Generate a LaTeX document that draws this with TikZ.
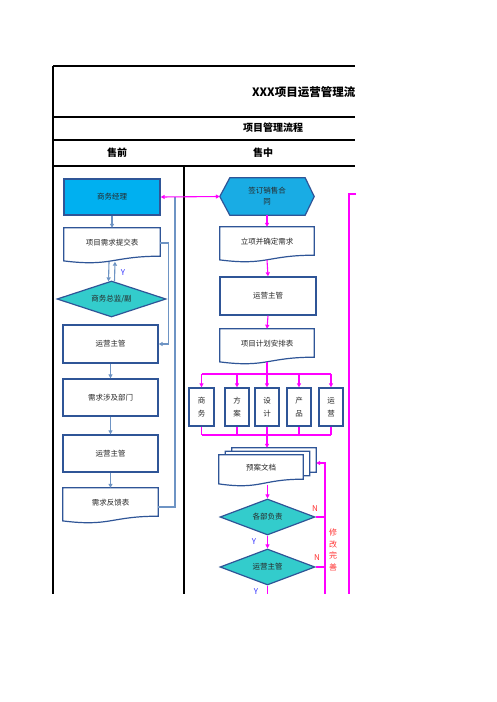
\documentclass[tikz,border=0pt]{standalone}
\usepackage{fontspec}
\setmainfont{Noto Sans CJK SC}
\usetikzlibrary{arrows.meta,calc,shapes.geometric,backgrounds}
\definecolor{bxc}{RGB}{47,85,151}
\definecolor{lbc}{RGB}{110,148,196}
\definecolor{cyc}{RGB}{0,176,240}
\definecolor{hxc}{RGB}{25,172,228}
\definecolor{tlc}{RGB}{51,204,204}
\definecolor{mgc}{RGB}{255,0,255}
\definecolor{rdc}{RGB}{255,50,50}
\definecolor{blc}{RGB}{51,51,255}
\definecolor{txc}{RGB}{40,40,40}
\begin{document}
\begin{tikzpicture}[x=1pt,y=-1pt,
  txt/.style={font=\fontsize{7.5}{9}\selectfont, text=txc, inner sep=0pt, align=center},
  bxst/.style={txt, draw=bxc, line width=1.3pt, fill=white},
  plain/.style={txt},
  diam/.style={txt, diamond, draw=bxc, line width=1.2pt, fill=tlc, aspect=3, inner sep=0pt},
  frm/.style={draw=black, line width=1.2pt},
  conn/.style={draw=lbc, line width=1.1pt},
  carr/.style={conn, -{Triangle[length=4pt,width=4pt]}},
  mag/.style={draw=mgc, line width=1.1pt},
  marr/.style={mag, -{Triangle[length=4pt,width=4pt]}},
  hd/.style={font=\bfseries\fontsize{10}{12}\selectfont, text=black, inner sep=0pt},
  ylab/.style={font=\fontsize{8}{9}\selectfont, text=blc, inner sep=0pt},
  nlab/.style={font=\fontsize{8}{9}\selectfont, text=rdc, inner sep=0pt},
  shapeln/.style={draw=bxc, line width=1.2pt, fill=white}
]
\useasboundingbox (0,0) rectangle (496,702);
\begin{scope}[on background layer]
  \fill[white] (0,0) rectangle (496,702);
\end{scope}

\begin{scope}
\clip (0,0) rectangle (356,702);
% frame
\draw[frm] (53,66) -- (355,66);
\draw[frm] (53,117) -- (355,117);
\draw[frm] (53,140) -- (355,140);
\draw[frm] (53,166) -- (355,166);
\draw[frm] (53,66) -- (53,593.5);
\draw[frm] (184,166) -- (184,593.5);
\node[anchor=east, font=\bfseries\fontsize{11.5}{14}\selectfont, inner sep=0pt] (title) at (355.5,92) {XXX项目运营管理流};
\node[hd] (sub) at (273,128) {项目管理流程};
\node[hd] (sq) at (117,153) {售前};
\node[hd] (sz) at (263,153) {售中};

% left column
\node[bxst, fill=cyc, minimum width=96pt, minimum height=36pt] (jl) at (112,197) {商务经理};
\node[plain, minimum width=96pt, minimum height=30pt] (xq) at (112,243) {项目需求提交表};
\node[diam, minimum width=109pt, minimum height=36pt] (zj) at (111.5,299) {商务总监/副};
\node[bxst, minimum width=95pt, minimum height=38pt] (yy1) at (110.5,344) {运营主管};
\node[bxst, minimum width=95pt, minimum height=37pt] (bm) at (110.5,397.5) {需求涉及部门};
\node[bxst, minimum width=95pt, minimum height=37pt] (yy2) at (110.5,453.5) {运营主管};
\node[plain, minimum width=95pt, minimum height=30pt] (fk) at (110.5,503) {需求反馈表};

% middle column
\node[plain, minimum width=94pt, minimum height=37pt, font=\fontsize{7.5}{11}\selectfont] (ht) at (267,196.5) {签订销售合\\同};
\node[plain, minimum width=94pt, minimum height=30pt] (lx) at (267,242) {立项并确定需求};
\node[bxst, minimum width=96pt, minimum height=38pt] (yy3) at (268,296) {运营主管};
\node[plain, minimum width=94pt, minimum height=30pt] (jh) at (267,344) {项目计划安排表};
\begin{scope}[every node/.style={bxst, minimum height=38pt, font=\fontsize{7.5}{13}\selectfont}]
\node[minimum width=25pt] (b1) at (201.5,407) {商\\务};
\node[minimum width=24pt] (b2) at (237,407) {方\\案};
\node[minimum width=24pt] (b3) at (267,407) {设\\计};
\node[minimum width=24pt] (b4) at (299,407) {产\\品};
\node[minimum width=24pt] (b5) at (331,407) {运\\营};
\end{scope}
\node[plain, minimum width=84pt, minimum height=26pt] (ya) at (261,468) {预案文档};
\node[diam, minimum width=95pt, minimum height=36pt] (d1) at (267.5,517) {各部负责};
\node[diam, minimum width=95pt, minimum height=36pt] (d2) at (267.5,567) {运营主管};

% shapes on background
\begin{scope}[on background layer]
\foreach \n in {xq,fk,lx,jh} {
  \filldraw[shapeln] (\n.north west) -- (\n.north east) -- ($(\n.south east)+(0,-2)$)
    .. controls ($(\n.south)+(0,-2)$) and ($(\n.south)+(0,8.7)$) .. ($(\n.south west)+(0,2.7)$) -- cycle;
}
\foreach \dx/\dy in {13/-7, 6.5/-3.5, 0/0} {
  \filldraw[shapeln] ($(ya.north west)+(\dx,\dy)$) -- ($(ya.north east)+(\dx,\dy)$) -- ($(ya.south east)+(\dx,\dy-2)$)
    .. controls ($(ya.south)+(\dx,\dy-2)$) and ($(ya.south)+(\dx,\dy+8.7)$) .. ($(ya.south west)+(\dx,\dy+2.7)$) -- cycle;
}
\filldraw[draw=bxc, line width=1.2pt, fill=hxc] (ht.west) -- ($(ht.north west)+(10,0)$) -- ($(ht.north east)+(-9,0)$) -- (ht.east)
  -- ($(ht.south east)+(-9,0)$) -- ($(ht.south west)+(10,0)$) -- cycle;
\end{scope}

% left connectors
\draw[carr] (jl.south) -- (xq.north);
\draw[carr] ($(xq.south)+(-3,4)$) -- ($(zj.north)+(-3,1)$);
\draw[carr] ($(zj.north)+(3,1)$) -- ($(xq.south)+(3,3.5)$);
\node[ylab] (y0) at (123,273) {Y};
\draw[carr] (xq.east) -- ++(8,0) |- (yy1.east);
\draw[carr] (yy1.south) -- (bm.north);
\draw[carr] (bm.south) -- (yy2.north);
\draw[carr] (yy2.south) -- (fk.north);
\coordinate (jn) at (175,197);
\draw[conn] ($(fk.east)+(0,4)$) -| (jn);

% magenta connectors
\draw[mag, {Triangle[length=4pt,width=4pt]}-{Triangle[length=4pt,width=4pt]}] (jl.east) -- (ht.west);
\draw[marr] (ht.south) -- (lx.north);
\draw[marr] ($(lx.south)+(0,2.6)$) -- (yy3.north);
\draw[marr] (yy3.south) -- (jh.north);
\coordinate (bus1) at (267,374);
\coordinate (bus2) at (267,435);
\draw[mag] ($(jh.south)+(0,2.6)$) -- (bus1);
\draw[mag] (b1.north |- bus1) -- (b5.north |- bus1);
\foreach \b in {b1,b2,b3,b4,b5} {
  \draw[marr] (\b.north |- bus1) -- (\b.north);
  \draw[mag] (\b.south) -- (\b.south |- bus2);
}
\draw[mag] (b1.south |- bus2) -- (b5.south |- bus2);
\draw[marr] (bus2) -- ($(bus2 |- ya.north)+(0,-7)$);
\draw[marr] ($(d1.north |- ya.south)+(0,3.5)$) -- (d1.north);
\draw[marr] (d1.south) -- (d2.north);
\coordinate (bot) at (267.5,593.5);
\draw[mag] (d2.south) -- (bot);
\node[ylab] (y1) at (254,542) {Y};
\node[ylab] (y2) at (256,592) {Y};
\coordinate (lp) at (325,593.5);
\draw[mag] (d1.east) -- (d1.east -| lp);
\draw[mag] (d2.east) -- (d2.east -| lp);
\draw[marr] (lp) |- ($(ya.east)+(13,-5)$);
\node[nlab] (n1) at (315,509) {N};
\node[nlab] (n2) at (317,558) {N};
\node[nlab, align=center, font=\fontsize{8}{11.8}\selectfont] (xg) at (333,550) {修\\改\\完\\善};
\coordinate (rt) at (356,194);
\coordinate (rb) at (349,593.5);
\draw[mag] (rt) -| (rb);
\end{scope}
\end{tikzpicture}
\end{document}
